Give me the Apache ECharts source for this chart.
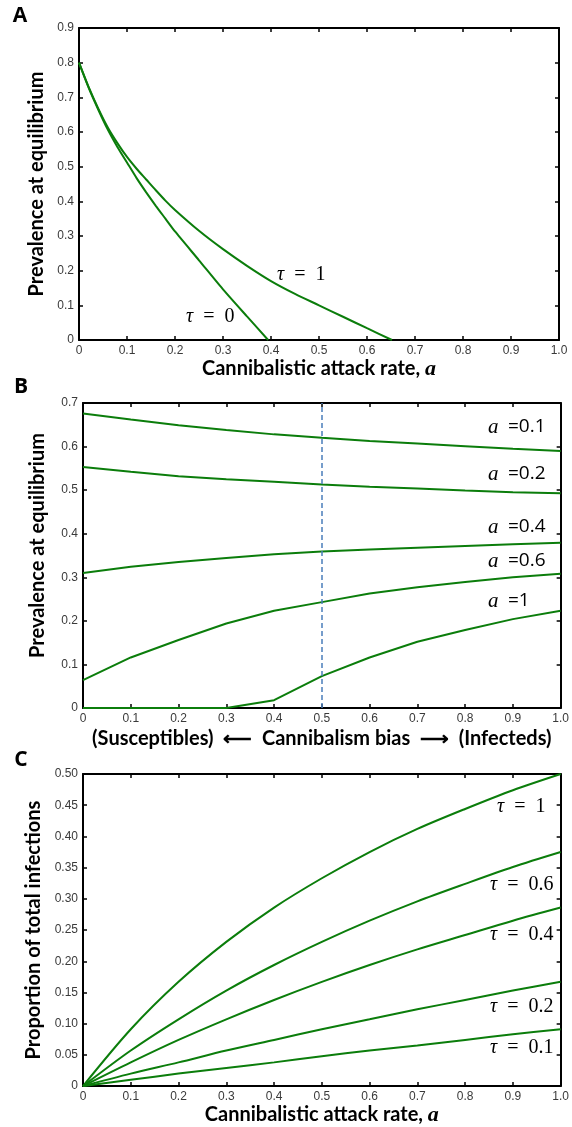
<!DOCTYPE html>
<html>
<head>
<meta charset="UTF-8">
<script src="https://cdn.jsdelivr.net/npm/echarts@6.0.0/dist/echarts.min.js"></script>
<style>
    html, body {margin: 0; padding: 0; background: #fff;}
    #main {width: 572px; height: 1127px;}
</style>
</head>
<body>
<div id="main"></div>
<script>
    /* A: prevalence vs attack rate */
    var aTau0X = [0, 0.02, 0.04, 0.06, 0.08, 0.10, 0.12, 0.14, 0.16, 0.18, 0.20, 0.25, 0.30, 0.35, 0.394];
    var aTau0Y = [0.80, 0.728, 0.665, 0.607, 0.557, 0.512, 0.467, 0.426, 0.387, 0.350, 0.313, 0.230, 0.146, 0.068, 0];
    var aTau1X = [0, 0.02, 0.04, 0.06, 0.08, 0.10, 0.12, 0.14, 0.16, 0.18, 0.20, 0.25, 0.30, 0.35, 0.40, 0.45, 0.50, 0.55, 0.60, 0.652];
    var aTau1Y = [0.80, 0.730, 0.668, 0.613, 0.568, 0.528, 0.494, 0.463, 0.432, 0.402, 0.375, 0.315, 0.262, 0.214, 0.170, 0.133, 0.100, 0.067, 0.034, 0];

    /* B: prevalence vs cannibalism bias */
    var biasX = [0, 0.1, 0.2, 0.3, 0.4, 0.5, 0.6, 0.7, 0.8, 0.9, 1.0];
    var bA01 = [0.676, 0.662, 0.649, 0.638, 0.628, 0.620, 0.613, 0.607, 0.601, 0.595, 0.590];
    var bA02 = [0.553, 0.542, 0.532, 0.525, 0.519, 0.513, 0.508, 0.504, 0.499, 0.495, 0.493];
    var bA04 = [0.310, 0.324, 0.335, 0.344, 0.353, 0.359, 0.364, 0.368, 0.372, 0.376, 0.379];
    var bA06 = [0.064, 0.116, 0.156, 0.194, 0.223, 0.243, 0.263, 0.277, 0.289, 0.300, 0.308];
    var bA1 = [0, 0, 0, 0, 0.018, 0.073, 0.116, 0.152, 0.179, 0.204, 0.223];

    /* C: proportion of total infections vs attack rate */
    var rateX = [0, 0.1, 0.2, 0.3, 0.4, 0.5, 0.6, 0.7, 0.8, 0.9, 1.0];
    var cT1 = [0, 0.091, 0.167, 0.231, 0.286, 0.333, 0.375, 0.412, 0.444, 0.474, 0.500];
    var cT06 = [0, 0.057, 0.107, 0.153, 0.194, 0.231, 0.265, 0.296, 0.324, 0.351, 0.375];
    var cT04 = [0, 0.038, 0.074, 0.107, 0.138, 0.167, 0.194, 0.219, 0.242, 0.265, 0.286];
    var cT02 = [0, 0.020, 0.038, 0.057, 0.074, 0.091, 0.107, 0.123, 0.138, 0.153, 0.167];
    var cT01 = [0, 0.010, 0.020, 0.029, 0.038, 0.048, 0.057, 0.065, 0.074, 0.083, 0.091];

    var GREEN = '#0b7d0b';
    var titleFont = 'Lato';
    var mathFont = 'Liberation Serif';

    function pairs(xs, ys) {
        return xs.map(function (x, i) { return [x, ys[i]]; });
    }

    function fmt1(v) { return v === 0 ? '0' : v.toFixed(1); }
    function fmt2(v) { return v === 0 ? '0' : v.toFixed(2); }

    var tick = {show: true, inside: true, length: 4, lineStyle: {color: '#000', width: 1.5}};
    var line = {show: true, onZero: false, lineStyle: {color: '#000', width: 2}};
    var tickLabel = {fontFamily: 'Liberation Sans', fontSize: 12, color: '#3a3a3a'};

    function nameStyle(padding) {
        return {
            fontFamily: titleFont, fontWeight: 'bold', fontSize: 20, color: '#000', padding: padding || 0,
            rich: {i: {fontFamily: mathFont, fontStyle: 'italic', fontWeight: 'bold', fontSize: 22, color: '#000'}}
        };
    }

    function xAxisPair(grid, name, gap) {
        return [{
            type: 'value', gridIndex: grid, position: 'bottom', min: 0, max: 1, interval: 0.1,
            axisLine: line, axisTick: tick, splitLine: {show: false},
            axisLabel: Object.assign({margin: 5, formatter: fmt1}, tickLabel),
            name: name, nameLocation: 'middle', nameGap: gap, nameTextStyle: nameStyle()
        }, {
            type: 'value', gridIndex: grid, position: 'top', min: 0, max: 1, interval: 0.1,
            axisLine: line, axisTick: tick, axisLabel: {show: false}, splitLine: {show: false}
        }];
    }

    function yAxisPair(grid, max, step, fmt, name, gap, padding) {
        return [{
            type: 'value', gridIndex: grid, position: 'left', min: 0, max: max, interval: step,
            axisLine: line, axisTick: tick, splitLine: {show: false},
            axisLabel: Object.assign({margin: 5, formatter: fmt}, tickLabel),
            name: name, nameLocation: 'middle', nameGap: gap, nameTextStyle: nameStyle(padding)
        }, {
            type: 'value', gridIndex: grid, position: 'right', min: 0, max: max, interval: step,
            axisLine: line, axisTick: tick, axisLabel: {show: false}, splitLine: {show: false}
        }];
    }

    function curve(xi, yi, data, smooth) {
        return {
            type: 'line', xAxisIndex: xi, yAxisIndex: yi, data: data,
            smooth: smooth, showSymbol: false, silent: true,
            lineStyle: {color: GREEN, width: 2}
        };
    }

    function label(x, y, text) {
        return {
            type: 'text', x: x, y: y, silent: true,
            style: {
                text: text, fontFamily: mathFont, fontSize: 20, fill: '#000',
                align: 'left', verticalAlign: 'middle',
                rich: {
                    t: {fontFamily: mathFont, fontStyle: 'italic', fontSize: 20},
                    i: {fontFamily: mathFont, fontStyle: 'italic', fontSize: 21},
                    n: {fontFamily: 'Open Sans', fontSize: 19}
                }
            }
        };
    }

    function letter(x, y, text) {
        return {
            type: 'text', x: x, y: y, silent: true,
            style: {text: text, fontFamily: 'Open Sans', fontWeight: 'bold', fontSize: 21, fill: '#000',
                align: 'center', verticalAlign: 'middle'}
        };
    }

    var chart = echarts.init(document.getElementById('main'));

    var xAxes = [].concat(
        xAxisPair(0, 'Cannibalistic attack rate, {i|a}', 16),
        xAxisPair(1, '(Susceptibles)  \u27F5  Cannibalism bias  \u27F6  (Infecteds)', 21),
        xAxisPair(2, 'Cannibalistic attack rate, {i|a}', 15)
    );
    var yAxes = [].concat(
        yAxisPair(0, 0.9, 0.1, fmt1, 'Prevalence at equilibrium', 29),
        yAxisPair(1, 0.7, 0.1, fmt1, 'Prevalence at equilibrium', 35, [0, 0, 0, 20]),
        yAxisPair(2, 0.5, 0.05, fmt2, 'Proportion of total infections', 37)
    );

    var bLine = curve(2, 2, pairs(biasX, bA01), false);
    bLine.markLine = {
        symbol: 'none', silent: true, label: {show: false},
        lineStyle: {color: '#4a7ebb', type: [5, 3], width: 1.5},
        data: [{xAxis: 0.5}]
    };

    var option = {
        backgroundColor: '#fff',
        animation: false,
        grid: [
            {left: 79, top: 28, width: 480, height: 312},
            {left: 83, top: 403, width: 479, height: 305},
            {left: 83, top: 774, width: 480, height: 313}
        ],
        xAxis: xAxes,
        yAxis: yAxes,
        series: [
            curve(0, 0, pairs(aTau0X, aTau0Y), 0.2),
            curve(0, 0, pairs(aTau1X, aTau1Y), 0.3),
            bLine,
            curve(2, 2, pairs(biasX, bA02), false),
            curve(2, 2, pairs(biasX, bA04), false),
            curve(2, 2, pairs(biasX, bA06), false),
            curve(2, 2, pairs(biasX, bA1), false),
            curve(4, 4, pairs(rateX, cT1), 0.3),
            curve(4, 4, pairs(rateX, cT06), 0.3),
            curve(4, 4, pairs(rateX, cT04), 0.3),
            curve(4, 4, pairs(rateX, cT02), 0.3),
            curve(4, 4, pairs(rateX, cT01), 0.3)
        ],
        graphic: [
            letter(20, 16, 'A'),
            letter(21, 387, 'B'),
            letter(21, 760, 'C'),
            label(186, 317, '{t|τ}\u2002=\u20020'),
            label(277, 275, '{t|τ}\u2002=\u20021'),
            label(488, 427, '{i|a}{n|\u2002=0.1}'),
            label(488, 474, '{i|a}{n|\u2002=0.2}'),
            label(488, 527, '{i|a}{n|\u2002=0.4}'),
            label(488, 561, '{i|a}{n|\u2002=0.6}'),
            label(488, 601, '{i|a}{n|\u2002=1}'),
            label(497, 807, '{t|τ}\u2002=\u20021'),
            label(490, 885, '{t|τ}\u2002=\u20020.6'),
            label(490, 935, '{t|τ}\u2002=\u20020.4'),
            label(490, 1007, '{t|τ}\u2002=\u20020.2'),
            label(490, 1048, '{t|τ}\u2002=\u20020.1')
        ]
    };

    chart.setOption(option);

    window.addEventListener('resize', function () {
        chart.resize();
    });
</script>
</body>
</html>
